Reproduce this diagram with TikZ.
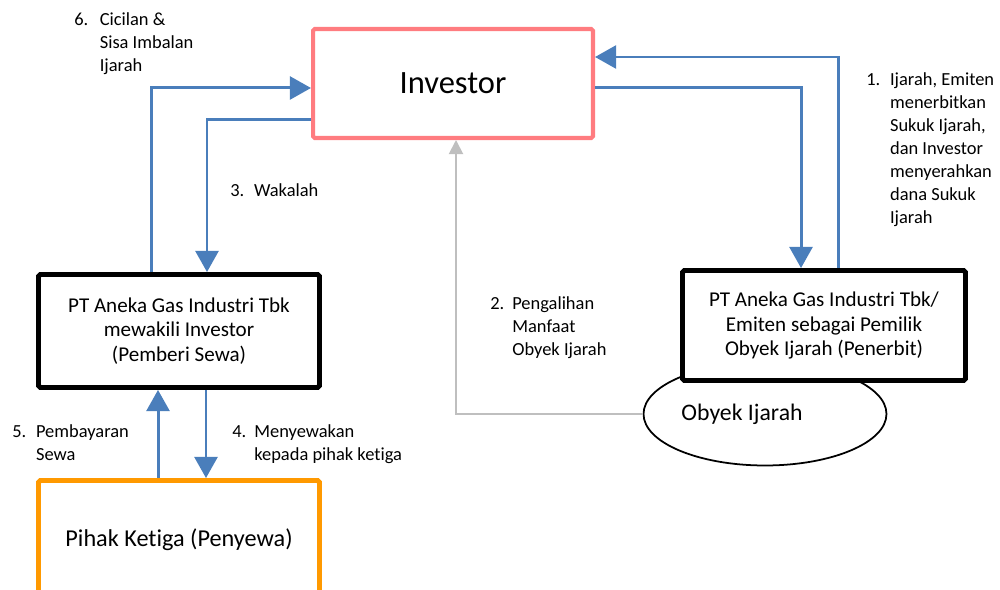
\documentclass[tikz,border=0pt]{standalone}
\usepackage{fontspec}
\setmainfont{Carlito}[Ligatures=NoCommon]
\usetikzlibrary{arrows.meta,shapes.geometric}

\definecolor{salmonpink}{RGB}{255,124,128}
\definecolor{flowblue}{RGB}{74,126,187}
\definecolor{palegray}{RGB}{191,191,191}
\definecolor{tenantorange}{RGB}{255,153,0}

\begin{document}
\begin{tikzpicture}[x=0.02cm,y=-0.02cm,
    party/.style={draw=black,line width=2.8pt,rounded corners=1pt,align=center,
        minimum width=5.62cm,font=\fontsize{12}{14}\selectfont},
    flow/.style={draw=flowblue,line width=1.7pt,-{Triangle[width=13pt,length=12pt]}},
    note/.style={anchor=base west,inner sep=0pt,font=\fontsize{10.5}{13}\selectfont}]
    \clip (0,0) rectangle (1000,590);

    % Investor box
    \node[draw=salmonpink,line width=2.3pt,rounded corners=1pt,minimum width=5.6cm,
        minimum height=2.18cm,font=\fontsize{18.5}{22}\selectfont] (inv) at (453,83.5) {Investor};

    % agent box on the left
    \node[party,minimum height=2.26cm] (lbox) at (179,331)
        {PT Aneka Gas Industri Tbk\\mewakili Investor\\(Pemberi Sewa)};

    % object and issuer box on the right
    \node[draw,ellipse,line width=1pt,minimum width=4.86cm,minimum height=2.06cm,
        font=\fontsize{13.5}{16}\selectfont] (ell) at (765,414) {\hspace*{-0.92cm}Obyek Ijarah};
    \node[party,fill=white,minimum width=5.66cm,minimum height=2.2cm] (rbox) at (824,325.5)
        {PT Aneka Gas Industri Tbk/\\Emiten sebagai Pemilik\\Obyek Ijarah (Penerbit)};

    % tenant box, runs past the bottom edge
    \node[draw=tenantorange,line width=2.8pt,rounded corners=1pt,minimum width=5.62cm,
        minimum height=2.38cm,font=\fontsize{13.8}{16}\selectfont] (obox) at (179,540)
        {Pihak Ketiga (Penyewa)};

    % flows
    \draw[flow] ([xshift=0.28cm]rbox.north) |- ([yshift=0.53cm]inv.east);
    \draw[flow] ([yshift=-0.09cm]inv.east) -| ([xshift=-0.46cm]rbox.north);
    \draw[flow] ([yshift=-0.73cm]inv.west) -| ([xshift=0.56cm]lbox.north);
    \draw[flow] ([xshift=-0.56cm]lbox.north) |- ([yshift=-0.09cm]inv.west);
    \draw[flow] ([xshift=0.54cm]lbox.south) -- ([xshift=0.54cm]obox.north);
    \draw[flow] ([xshift=-0.42cm]obox.north) -- ([xshift=-0.42cm]lbox.south);
    \draw[draw=palegray,line width=1.1pt,-{Triangle[width=8pt,length=8pt]}]
        (ell.west) -| ([xshift=0.06cm]inv.south);

    % step labels
    \node[note] (n1) at (866,86) {\begin{tabular}[t]{@{}p{13.5pt}@{}l@{}}
        1. & Ijarah, Emiten\\ & menerbitkan\\ & Sukuk Ijarah,\\ & dan Investor\\
           & menyerahkan\\ & dana Sukuk\\ & Ijarah\end{tabular}};
    \node[note] (n2) at (490,310) {\begin{tabular}[t]{@{}p{12.5pt}@{}l@{}}
        2. & Pengalihan\\ & Manfaat\\ & Obyek Ijarah\end{tabular}};
    \node[note] (n3) at (230,197) {\begin{tabular}[t]{@{}p{13.5pt}@{}l@{}}
        3. & Wakalah\end{tabular}};
    \node[note] (n4) at (232,438) {\begin{tabular}[t]{@{}p{12.5pt}@{}l@{}}
        4. & Menyewakan\\ & kepada pihak ketiga\end{tabular}};
    \node[note] (n5) at (12,438) {\begin{tabular}[t]{@{}p{13.5pt}@{}l@{}}
        5. & Pembayaran\\ & Sewa\end{tabular}};
    \node[note] (n6) at (74,26) {\begin{tabular}[t]{@{}p{14.5pt}@{}l@{}}
        6. & Cicilan \&\\ & Sisa Imbalan\\ & Ijarah\end{tabular}};
\end{tikzpicture}
\end{document}
